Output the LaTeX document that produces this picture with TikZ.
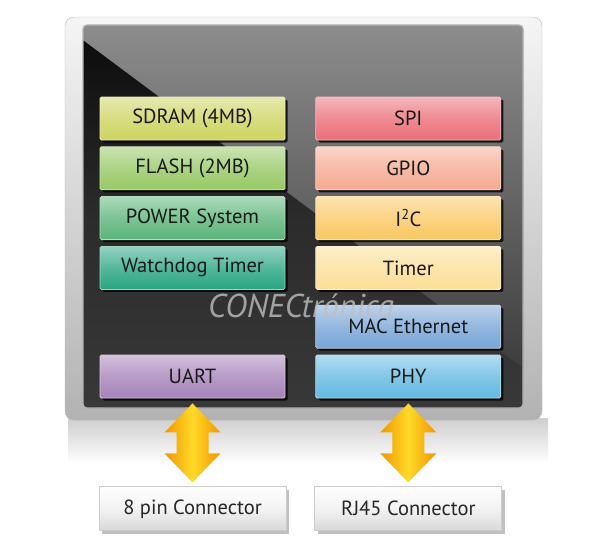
\documentclass[tikz,border=0pt]{standalone}
\usepackage{fontspec}
\setmainfont{PT Sans}
\usetikzlibrary{positioning,shadows,calc}
\definecolor{sdramc}{RGB}{205,212,95}
\definecolor{flashc}{RGB}{150,200,100}
\definecolor{powerc}{RGB}{90,180,120}
\definecolor{wdogc}{RGB}{40,165,130}
\definecolor{spic}{RGB}{235,110,120}
\definecolor{gpioc}{RGB}{245,170,145}
\definecolor{iicc}{RGB}{250,200,100}
\definecolor{timerc}{RGB}{252,222,150}
\definecolor{macc}{RGB}{120,165,215}
\definecolor{phyc}{RGB}{100,185,225}
\definecolor{uartc}{RGB}{165,130,185}
\definecolor{arrowo}{RGB}{240,150,0}
\definecolor{arrowy}{RGB}{255,218,40}
% fat two-headed arrow between two nodes
\newcommand{\bidiarrow}[2]{%
  \shade[arrowfill] ($(#1.south)+(0,5)$) -- ($(#1.south)+(28,34)$)
    -- ($(#1.south)+(16,34)$) -- ($(#2.north)+(16,-33)$)
    -- ($(#2.north)+(28,-33)$) -- ($(#2.north)+(0,-4)$)
    -- ($(#2.north)+(-28,-33)$) -- ($(#2.north)+(-16,-33)$)
    -- ($(#1.south)+(-16,34)$) -- ($(#1.south)+(-28,34)$) -- cycle;}

\begin{document}
\begin{tikzpicture}[x=1pt,y=-1pt,
  blk/.style={draw=#1!45!white,line width=0.8pt,rounded corners=1.5pt,
              top color=#1!50!white,bottom color=#1,middle color=#1!80!white,
              minimum width=185pt,minimum height=43pt,inner sep=0pt,
              font=\fontsize{20.5}{23}\selectfont,text=black!90,
              drop shadow={shadow xshift=2.5pt,shadow yshift=-2.5pt,
                           fill=black,opacity=0.8}},
  conn/.style={draw=gray!40,line width=0.8pt,top color=white,
               bottom color=gray!30,middle color=gray!10,
               minimum width=187pt,minimum height=44pt,inner sep=0pt,
               font=\fontsize{20.5}{23}\selectfont,text=black!85,
               drop shadow={shadow xshift=3pt,shadow yshift=-3pt,
                            fill=gray!70,opacity=0.7}},
  arrowfill/.style={left color=arrowo,right color=arrowo,middle color=arrowy},
  wmark/.style={font=\itshape\fontsize{33}{35}\selectfont,text=gray!50,
                opacity=0.8,inner sep=0pt,anchor=base}
]
\fill[white] (0,0) rectangle (600,558);
\useasboundingbox (0,0) rectangle (600,558);

% board frame
\shade[top color=gray!38,bottom color=white] (68,418) rectangle (548,464);
\draw[gray!55,rounded corners=9pt,top color=gray!8,bottom color=gray!60]
  (65,17) rectangle (542,420);
\begin{scope}
  \clip[rounded corners=4pt] (83,25) rectangle (523,408);
  \shade[top color=black!96,bottom color=black!78,middle color=black!83]
    (83,25) rectangle (523,408);
  \shade[top color=black!45,bottom color=black!76]
    (83,25) -- (523,25) -- (523,368) -- (83,40) -- cycle;
\end{scope}
\draw[gray!60,line width=1.2pt,rounded corners=4pt] (83,25) rectangle (523,408);

% left column
\node[blk=sdramc] (sdram) at (192.5,118.5) {SDRAM (4MB)};
\node[blk=flashc,below=6pt of sdram] (flash) {FLASH (2MB)};
\node[blk=powerc,below=6pt of flash] (power) {POWER System};
\node[blk=wdogc,below=6pt of power] (wdog) {Watchdog Timer};
\node[blk=uartc] (uart) at (192.5,376.5) {UART};

% right column
\node[blk=spic,right=30pt of sdram] (spi) {SPI};
\node[blk=gpioc,below=6pt of spi] (gpio) {GPIO};
\node[blk=iicc,below=6pt of gpio] (iic) {I\textsuperscript{2}C};
\node[blk=timerc,below=6pt of iic] (timer) {Timer};
\node[blk=phyc,right=30pt of uart] (phy) {PHY};
\node[blk=macc,above=6pt of phy] (mac) {MAC Ethernet};

\node[wmark] (logo) at (301,317) {CONECtrónica};

% connectors
\node[conn,below=88pt of uart] (pin8) {8 pin Connector};
\node[conn,below=88pt of phy] (rj45) {RJ45 Connector};

\bidiarrow{uart}{pin8}
\bidiarrow{phy}{rj45}

\end{tikzpicture}
\end{document}
